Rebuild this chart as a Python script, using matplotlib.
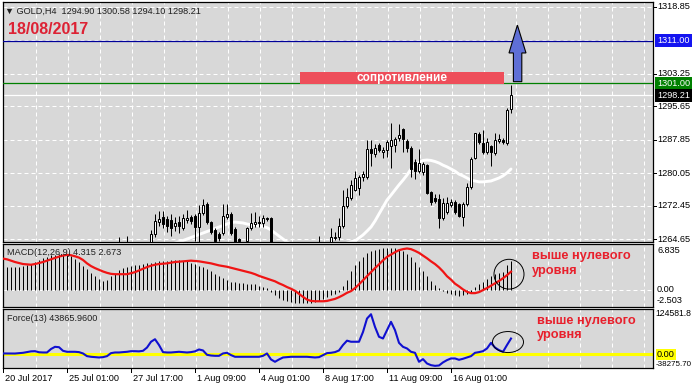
import matplotlib
matplotlib.use('Agg')
import matplotlib.pyplot as plt
from matplotlib.patches import Rectangle, Ellipse, Polygon
from matplotlib.transforms import blended_transform_factory as blend
import numpy as np

# ---------------- data ----------------
opens = [1243.0,1244.8,1245.5,1246.9,1247.4,1248.6,1251.8,1253.5,1255.9,1255.2,1254.6,1255.3,1255.0,1255.8,1254.3,1253.1,
         1252.4,1253.0,1251.6,1250.3,1249.5,1248.6,1247.9,1249.8,1252.1,1255.3,1258.2,1258.7,1260.8,1261.6,1262.7,1262.0,
         1263.1,1262.4,1262.9,1263.2,1263.0,1263.4,1265.8,1268.6,1269.8,1269.3,1269.1,1267.7,1268.6,1267.2,1269.1,1269.8,
         1270.0,1267.5,1270.7,1272.8,1268.6,1266.8,1265.8,1266.1,1269.8,1270.5,1267.0,1264.6,1263.5,1264.2,1267.2,1268.2,
         1268.6,1268.4,1269.6,1269.6,1262.0,1260.2,1258.4,1259.1,1259.8,1259.4,1260.1,1259.6,1260.5,1261.2,1261.9,1262.5,
         1263.4,1263.0,1263.6,1265.0,1265.1,1267.7,1272.4,1274.2,1276.1,1276.5,1279.1,1279.1,1285.7,1284.5,1286.6,1284.9,
         1285.4,1286.4,1286.6,1288.2,1290.4,1287.5,1285.9,1282.6,1280.5,1280.3,1281.9,1275.6,1274.2,1274.0,1269.6,1270.9,
         1272.6,1273.3,1272.8,1269.8,1272.8,1276.8,1283.6,1289.2,1287.1,1285.0,1286.4,1284.7,1287.6,1287.8,1287.1,1294.90]
highs = [1245.2,1246.0,1247.3,1248.1,1249.0,1252.2,1254.0,1256.4,1256.5,1255.9,1255.8,1256.1,1256.3,1256.2,1255.0,1253.9,
         1253.6,1253.8,1252.4,1251.1,1250.2,1249.3,1250.4,1252.6,1255.9,1258.8,1259.4,1261.3,1262.5,1265.1,1263.5,1265.4,
         1263.8,1263.3,1263.6,1263.8,1263.7,1266.8,1270.5,1271.2,1271.2,1270.0,1270.5,1269.8,1270.0,1270.5,1271.5,1270.3,
         1270.5,1272.6,1273.9,1273.4,1268.9,1267.2,1266.3,1272.8,1272.8,1271.0,1267.5,1264.8,1263.9,1267.5,1270.7,1270.9,
         1270.0,1270.2,1269.9,1269.9,1262.8,1261.0,1259.6,1260.3,1260.8,1260.5,1261.0,1260.9,1261.8,1262.4,1263.0,1265.3,
         1263.9,1263.8,1267.2,1266.3,1269.6,1276.1,1276.6,1278.4,1280.5,1279.6,1280.5,1287.8,1287.8,1286.8,1287.1,1286.1,
         1287.8,1291.8,1288.5,1291.5,1290.6,1288.0,1286.4,1283.3,1285.7,1282.6,1282.2,1275.8,1275.2,1275.2,1274.2,1274.5,
         1274.0,1273.8,1273.0,1273.3,1277.7,1283.8,1289.4,1289.7,1290.1,1288.3,1286.6,1289.4,1289.2,1288.3,1295.3,1300.58]
lows = [1242.5,1243.9,1245.0,1246.2,1247.0,1248.3,1251.0,1253.0,1254.6,1253.8,1254.0,1254.7,1254.2,1253.9,1252.6,1251.8,
        1251.7,1251.2,1249.8,1248.9,1248.0,1247.2,1247.5,1249.4,1251.7,1254.9,1257.1,1258.2,1259.9,1261.0,1261.4,1261.6,
        1261.9,1261.5,1262.0,1262.6,1262.1,1263.2,1265.1,1267.7,1267.2,1266.3,1265.3,1266.5,1266.1,1266.8,1268.4,1268.2,
        1264.2,1264.0,1270.3,1268.2,1265.8,1263.8,1264.3,1265.6,1269.3,1265.6,1263.5,1263.2,1262.5,1263.5,1266.8,1267.5,
        1267.5,1267.5,1268.9,1261.0,1259.5,1257.8,1257.4,1258.3,1258.9,1258.6,1259.2,1259.0,1260.0,1260.6,1261.2,1262.2,
        1262.6,1262.4,1263.4,1264.4,1264.5,1267.2,1271.8,1273.8,1275.8,1275.0,1278.2,1278.7,1281.7,1283.8,1284.9,1283.6,
        1283.8,1281.2,1285.0,1287.5,1285.0,1285.0,1279.1,1278.7,1280.0,1279.6,1275.2,1272.6,1273.0,1267.2,1269.1,1270.5,
        1272.2,1270.5,1269.8,1267.7,1272.4,1276.3,1283.3,1286.8,1284.5,1284.6,1281.7,1284.3,1287.1,1286.8,1286.6,1294.10]
closes = [1244.8,1245.5,1246.9,1247.4,1248.6,1251.8,1253.5,1255.9,1255.2,1254.6,1255.3,1255.0,1255.8,1254.3,1253.1,1252.4,
          1253.0,1251.6,1250.3,1249.5,1248.6,1247.9,1249.8,1252.1,1255.3,1258.2,1258.7,1260.8,1261.6,1262.7,1262.0,1263.1,
          1262.4,1262.9,1263.2,1263.0,1263.4,1265.8,1268.9,1269.3,1268.2,1267.7,1267.2,1268.4,1267.7,1269.5,1269.6,1268.9,
          1267.5,1270.7,1272.6,1268.6,1266.3,1264.2,1264.9,1270.0,1270.5,1266.1,1264.0,1264.2,1263.0,1267.2,1268.4,1268.6,
          1268.3,1269.6,1269.4,1262.0,1260.2,1258.4,1259.1,1259.8,1259.4,1260.1,1259.6,1260.5,1261.2,1261.9,1262.5,1263.4,
          1263.0,1263.6,1265.1,1265.2,1267.7,1272.4,1274.5,1277.3,1278.9,1279.1,1279.8,1285.7,1284.7,1285.9,1285.4,1285.4,
          1287.3,1287.8,1288.0,1289.0,1288.0,1285.9,1281.0,1280.5,1282.4,1282.2,1275.4,1273.3,1273.5,1269.6,1273.1,1273.1,
          1273.3,1270.9,1270.0,1272.8,1276.8,1283.3,1289.4,1287.3,1285.0,1287.3,1285.0,1287.8,1288.0,1287.3,1294.8,1298.21]

ma_start = 40
ma_vals = [1262.6,1263.0,1263.4,1263.7,1264.0,1264.3,
           1264.65,1265.0,1265.35,1265.7,1266.05,1266.4,1266.75,1267.1,1267.45,1267.8,1268.15,1268.5,1268.6,1268.5,1268.4,
           1268.15,1268.0,1267.9,1267.7,1267.55,1267.3,
           1266.75,1266.05,1265.35,1264.65,1263.95,1263.5,1263.1,
           1262.8,1262.5,1262.3,1262.1,1262.0,1262.0,1262.1,1262.3,1262.5,1262.8,1263.1,1263.4,1263.7,1264.0,
           1264.2,1264.9,1265.6,1266.5,1267.45,1268.85,1270.5,1272.1,1273.75,1274.9,1276.1,1277.3,1278.4,1279.6,1281.0,
           1281.9,1282.6,1283.0,1283.1,1283.0,1282.75,1282.4,1281.9,1281.5,1281.0,1280.5,1279.8,1279.4,1278.9,1278.4,
           1278.2,1278.0,1278.0,1278.1,1278.2,1278.55,1278.9,1279.4,1280.1,1281.0]

macd_hist = [3.4,3.3,3.3,3.3,3.4,3.5,3.6,3.8,
             4.1,4.4,4.7,4.9,5.1,5.2,5.3,5.3,
             5.2,5.0,4.6,4.1,3.5,3.0,
             2.5,2.0,1.6,1.3,1.5,
             2.0,2.4,2.9,3.2,3.4,3.5,3.6,3.7,
             3.8,3.9,4.0,4.1,4.2,4.3,4.3,4.4,4.4,4.4,4.3,
             4.2,4.0,3.8,3.5,3.3,3.0,2.7,
             2.3,2.0,1.7,1.4,1.2,1.1,1.0,1.0,
             0.9,0.9,0.8,0.6,0.4,0.2,
             -0.3,-0.8,-1.2,-1.5,-1.7,-1.8,
             -1.9,-2.0,-2.0,-2.0,-1.9,-1.8,-1.6,
             -1.3,-1.0,-0.8,-0.6,-0.4,0.5,1.5,
             2.8,3.6,4.3,4.9,5.4,5.7,5.9,6.0,6.1,6.2,6.2,6.1,6.0,
             5.7,5.3,4.8,4.1,3.4,2.7,2.0,1.3,0.7,0.2,-0.2,
             -0.5,-0.6,-0.8,-0.9,-0.8,-0.6,-0.3,
             0.4,0.8,1.2,1.6,2.1,2.4,2.5,2.6,3.6,4.315]
macd_signal = [4.6,4.5,4.3,4.1,3.95,3.8,3.75,3.7,3.8,3.95,4.1,4.3,4.5,4.7,4.9,5.05,
               5.15,5.1,4.95,4.75,4.4,3.9,3.5,3.2,2.95,2.7,2.5,2.35,2.3,2.3,2.3,2.3,
               2.45,2.6,2.85,3.1,3.35,3.55,3.7,3.8,3.85,3.9,4.0,4.1,4.15,4.2,4.25,4.3,
               4.25,4.2,4.1,4.0,3.9,3.75,3.6,3.5,3.4,3.25,3.1,2.95,2.8,2.65,2.5,2.3,
               2.05,1.85,1.65,1.45,1.25,0.95,0.7,0.4,0.15,-0.15,-0.6,-1.05,-1.45,-1.65,-1.7,-1.7,
               -1.7,-1.65,-1.5,-1.35,-1.1,-0.8,-0.45,
               -0.2,0.25,0.8,1.4,2.0,2.6,3.2,3.75,4.35,4.85,5.2,5.55,5.85,6.0,6.1,6.0,
               5.75,5.45,5.05,4.65,4.2,3.8,3.3,2.7,2.0,1.5,0.9,0.5,0.05,-0.3,-0.5,-0.5,
               -0.35,-0.05,0.25,0.6,0.95,1.3,1.7,2.15,2.673]
force = [2700,2700,2700,2500,3600,4500,6400,8500,9000,6000,5400,5400,15000,21000,20000,10000,
         7300,7300,7300,6400,2700,-4700,-6500,-7500,-8400,-7500,-4700,3600,5400,5400,6400,7300,
         9000,9000,8500,10000,19000,35000,42000,26000,6400,5400,5400,6400,7300,6400,5400,6400,
         8500,13700,11000,-1000,-3000,-3800,-3800,2700,4500,-1800,-6500,-6500,-6500,-6500,-6500,-6500,
         -6500,-3800,2700,-13900,-20300,-13900,-8400,-7500,-6500,-6500,-6500,-6500,-6500,-7500,-8400,-7500,
         -1800,3600,4500,6400,11000,26000,38000,35000,35000,35000,62000,99000,111000,76000,48700,44000,
         67000,90000,67000,32000,21000,16500,7300,4500,-20300,-13000,-25000,-29600,-31500,-30500,-22000,-15700,
         -11100,-11100,-14800,-12000,-8400,-4700,4500,6400,9000,16500,32000,19000,11900,7300,26000,43866]

price_ticks = [1318.85, 1303.25, 1295.65, 1287.85, 1280.05, 1272.45, 1264.65]
level_upper = 1311.00
level_resist = 1301.00
bid_price = 1298.21
date_idx = [0, 16, 32, 48, 64, 80, 96, 112]
date_labels = ['20 Jul 2017', '25 Jul 01:00', '27 Jul 17:00', '1 Aug 09:00',
               '4 Aug 01:00', '8 Aug 17:00', '11 Aug 09:00', '16 Aug 01:00']
macd_range = (-2.503, 6.835)
force_range = (-38275.70, 124581.8)

# ---------------- figure ----------------
W, H = 696, 390
fig = plt.figure(figsize=(W / 100, H / 100), dpi=100)
fig.patch.set_facecolor('white')
BG = '#d8d8d8'
PX = 0.72
NUMFONT = ['Liberation Sans', 'DejaVu Sans']


def ax_px(left, top, right, bottom):
    a = fig.add_axes([left / W, 1 - bottom / H, (right - left) / W, (bottom - top) / H])
    a.set_facecolor(BG)
    a.set_xticks([])
    a.set_yticks([])
    for s in a.spines.values():
        s.set_color('black')
        s.set_linewidth(0.9)
    a.set_xlim(0, 162.5)
    return a


ax = ax_px(3, 2, 653, 241.5)
am = ax_px(3, 243.5, 653, 306.7)
af = ax_px(3, 309.3, 653, 368.3)
ax.set_ylim(1264.07, 1320.0)
am.set_ylim(*macd_range)
af.set_ylim(*force_range)

grid_kw = dict(color='white', lw=PX, linestyle=(0, (4, 3)), zorder=0.5)
for a in (ax, am, af):
    for k in range(1, 21):
        a.axvline(8 * k + 0.2, **grid_kw)
for p in price_ticks + [1311.05]:
    ax.axhline(p, **grid_kw)
am.axhline(0, **grid_kw)

# ---- candles ----
idx = np.arange(len(opens))
o, h, l, c = (np.array(v) for v in (opens, highs, lows, closes))
ax.vlines(idx, l, h, color='black', lw=PX, zorder=2)
up = c >= o
bot = np.minimum(o, c)
ht = np.abs(c - o)
ax.bar(idx[up], ht[up], bottom=bot[up], width=0.6, facecolor='white', edgecolor='black', lw=PX, zorder=3)
ax.bar(idx[~up], ht[~up], bottom=bot[~up], width=0.6, facecolor='black', edgecolor='black', lw=PX, zorder=3)

ma_idx = np.arange(ma_start, ma_start + len(ma_vals))
ax.plot(ma_idx, ma_vals, color='white', lw=2.1, zorder=1.5, solid_capstyle='round')

ax.axhline(level_upper, color='#000099', lw=0.9, zorder=4)
ax.axhline(level_resist, color='#008000', lw=0.9, zorder=4)
ax.axhline(bid_price, color='white', lw=0.9, zorder=1.6)

# resistance box
ax.add_patch(Rectangle((74.25, 1300.95), 51.0, 2.8, facecolor='#ee4e5a', edgecolor='none', zorder=5))
ax.text(99.75, 1302.35, 'сопротивление', color='white', fontsize=8.5, fontweight='bold',
        family=NUMFONT, ha='center', va='center', zorder=6)

# arrow
arrow_pts = [(127.6, 1301.4), (127.6, 1308.1), (126.5, 1308.1), (128.6, 1314.6),
             (130.75, 1308.1), (129.7, 1308.1), (129.7, 1301.4)]
ax.add_patch(Polygon(arrow_pts, closed=True, facecolor='#5f6fd6', edgecolor='black', lw=0.8, zorder=6))

# ---- right price scale ----
tr = blend(ax.transAxes, ax.transData)
for p in price_ticks:
    ax.text(1.0062, p, f'{p:.2f}', transform=tr, fontsize=6.6, family=NUMFONT,
            ha='left', va='center', clip_on=False)
    ax.plot([1.0, 1.0046], [p, p], transform=tr, color='black', lw=PX, clip_on=False)
for p, bg, fg in ((level_upper, '#1414f0', 'white'), (level_resist, '#008000', 'white'), (bid_price, 'black', 'white')):
    ax.text(1.0062, p, f'{p:.2f}', transform=tr, fontsize=6.6, family=NUMFONT, color=fg,
            ha='left', va='center', clip_on=False, zorder=10,
            bbox=dict(boxstyle='square,pad=0.22', fc=bg, ec='none'))

# ---- MACD ----
am.vlines(idx, 0, macd_hist, color='black', lw=PX, zorder=2)
am.plot(idx, macd_signal, color='#f01414', lw=1.6, zorder=3)
trm = blend(am.transAxes, am.transData)
am.text(1.0062, macd_range[1] - 0.4, '6.835', transform=trm, fontsize=6.6, family=NUMFONT,
        ha='left', va='top', clip_on=False)
am.text(1.0062, 0.0, '0.00', transform=trm, fontsize=6.6, family=NUMFONT,
        ha='left', va='center', clip_on=False)
am.text(1.0062, macd_range[0] + 0.3, '-2.503', transform=trm, fontsize=6.6, family=NUMFONT,
        ha='left', va='bottom', clip_on=False)
am.text(0.006, 0.86, 'MACD(12,26,9) 4.315 2.673', transform=am.transAxes, fontsize=6.6,
        family=NUMFONT, ha='left', va='center', color='#202020')
am.add_patch(Ellipse((126.5, 2.3), 7.5, 4.4, facecolor='none', edgecolor='black', lw=0.7, zorder=5))

# ---- Force ----
af.axhline(0, color='#ffff00', lw=2.2, zorder=1)
af.plot(idx, force, color='#1010d0', lw=1.5, zorder=3)
trf = blend(af.transAxes, af.transData)
af.text(1.0035, force_range[1], '124581.8', transform=trf, fontsize=6.2, family=NUMFONT,
        ha='left', va='top', clip_on=False)
af.text(1.0062, 0, '0.00', transform=trf, fontsize=6.6, family=NUMFONT, ha='left', va='center',
        clip_on=False, bbox=dict(boxstyle='square,pad=0.1', fc='#ffff00', ec='none'))
af.text(1.0035, force_range[0], '-38275.70', transform=trf, fontsize=5.8, family=NUMFONT,
        ha='left', va='bottom', clip_on=False)
af.text(0.006, 0.85, 'Force(13) 43865.9600', transform=af.transAxes, fontsize=6.6,
        family=NUMFONT, ha='left', va='center', color='#202020')
af.add_patch(Ellipse((126.25, 34200), 7.75, 58000, facecolor='none', edgecolor='black', lw=0.7, zorder=5))

# ---- date axis ----
trd = blend(af.transData, af.transAxes)
for i, lab in zip(date_idx, date_labels):
    af.plot([i, i], [0, -0.06], transform=trd, color='black', lw=PX, clip_on=False)
    af.text(i + 0.6, -0.18, lab, transform=trd, fontsize=6.6, family=NUMFONT,
            ha='left', va='center', clip_on=False)

# ---- header texts ----
fig.text(5 / W, 1 - 11 / H, '▼ GOLD,H4  1294.90 1300.58 1294.10 1298.21', fontsize=6.6,
         family=NUMFONT, ha='left', va='center', color='#202020')
fig.text(8 / W, 1 - 30 / H, '18/08/2017', fontsize=11.5, family=NUMFONT, fontweight='bold',
         ha='left', va='center', color='#dd2234')

red = '#e8202c'
fig.text(532 / W, 1 - 263.5 / H, 'выше нулевого\nуровня', fontsize=9.2, fontweight='bold',
         family=NUMFONT, ha='left', va='center', color=red, linespacing=1.35)
fig.text(537 / W, 1 - 328 / H, 'выше нулевого\nуровня', fontsize=9.2, fontweight='bold',
         family=NUMFONT, ha='left', va='center', color=red, linespacing=1.22)

fig.savefig('out.png', dpi=100, facecolor='white')
